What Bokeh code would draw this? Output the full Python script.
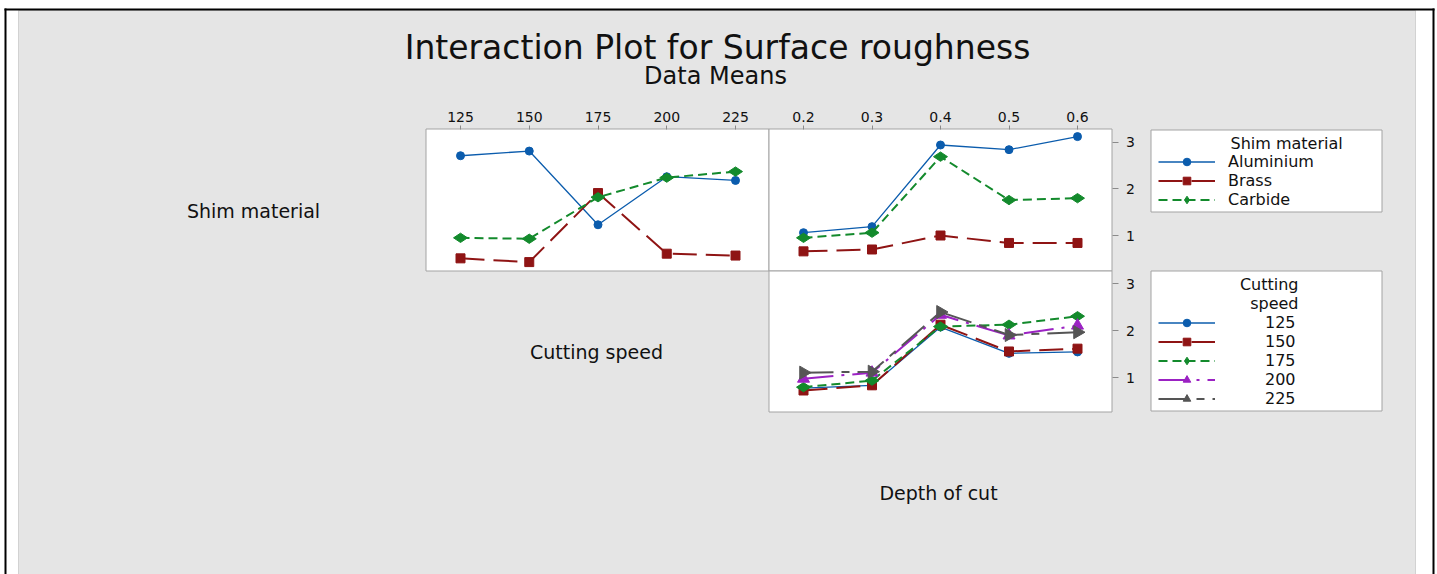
import math

from bokeh.embed import file_html
from bokeh.models import FixedTicker, Label, Legend, LegendItem, LinearAxis, Range1d
from bokeh.plotting import figure
from bokeh.resources import INLINE

# ---- data: surface roughness means ----
cutting_speed = [125, 150, 175, 200, 225]
depth_of_cut = [0.2, 0.3, 0.4, 0.5, 0.6]
roughness_ticks = [1, 2, 3]

shim_materials = ["Aluminium", "Brass", "Carbide"]
speed_labels = ["125", "150", "175", "200", "225"]

# shim material x cutting speed
aluminium_by_speed = [2.71, 2.81, 1.23, 2.26, 2.18]
brass_by_speed = [0.51, 0.43, 1.91, 0.61, 0.57]
carbide_by_speed = [0.95, 0.93, 1.82, 2.24, 2.37]

# shim material x depth of cut
aluminium_by_depth = [1.06, 1.19, 2.94, 2.84, 3.12]
brass_by_depth = [0.66, 0.70, 1.00, 0.84, 0.84]
carbide_by_depth = [0.95, 1.06, 2.69, 1.76, 1.80]

# cutting speed x depth of cut
speed125_by_depth = [0.78, 0.84, 2.08, 1.52, 1.55]
speed150_by_depth = [0.73, 0.84, 2.13, 1.56, 1.62]
speed175_by_depth = [0.80, 0.94, 2.09, 2.13, 2.31]
speed200_by_depth = [0.98, 1.11, 2.34, 1.90, 2.11]
speed225_by_depth = [1.11, 1.13, 2.40, 1.91, 1.97]

# ---- page geometry (pixels) ----
W, H = 1437, 574
FONT = "DejaVu Sans"
TEXT = "#111111"


def x_range_for(v_a, px_a, v_b, px_b):
    k = (px_b - px_a) / (v_b - v_a)
    return Range1d(start=v_a - px_a / k, end=v_a + (W - px_a) / k)


def y_range_for(v_a, py_a, v_b, py_b):
    k = (py_a - py_b) / (v_b - v_a)
    return Range1d(start=v_a + (py_a - H) / k, end=v_a + py_a / k)


p = figure(
    width=W, height=H, output_backend="svg", toolbar_location=None,
    x_range=Range1d(0, W), y_range=Range1d(H, 0),
    x_axis_type=None, y_axis_type=None, min_border=0,
    outline_line_color=None, background_fill_color="white",
    border_fill_color="white",
)
p.extra_x_ranges = {
    "cs": x_range_for(125, 460, 225, 735),
    "doc": x_range_for(0.2, 803, 0.6, 1077),
}
p.extra_y_ranges = {
    "top": y_range_for(1, 235, 3, 141.7),
    "bot": y_range_for(1, 377.3, 3, 283.3),
}

# ---- frame and background ----
p.quad(left=[18], right=[1415], top=[10], bottom=[574],
       fill_color="#e5e5e5", line_color="#d2d2d2", line_width=1)
p.quad(left=[4, 4, 1432], right=[1434, 6, 1434], top=[8, 8, 8], bottom=[10, 574, 574],
       fill_color="black", line_color=None)

# panels and legend boxes
PANEL_LINE = "#a3a3a3"
p.quad(left=[425.5, 768.5, 768.5], right=[768.5, 1111.5, 1111.5],
       top=[128.5, 128.5, 270.5], bottom=[270.5, 270.5, 411.5],
       fill_color="white", line_color=PANEL_LINE, line_width=1)
p.quad(left=[1150.5, 1150.5], right=[1381.5, 1381.5],
       top=[129.5, 270.5], bottom=[211.5, 410.5],
       fill_color="white", line_color=PANEL_LINE, line_width=1)

# ---- series styles ----
BLUE, RED, GREEN, PURPLE, GREY = "#0b5cad", "#8f1414", "#138a2c", "#9b22c3", "#555555"
styles = [
    dict(color=BLUE, line_width=1.3, line_dash="solid", marker="circle", size=8, angle=0.0),
    dict(color=RED, line_width=2, line_dash="24 9", marker="square", size=9, angle=0.0),
    dict(color=GREEN, line_width=2, line_dash="9 5", marker="diamond", size=14, angle=math.pi / 2),
    dict(color=PURPLE, line_width=2, line_dash="30 8 3 8", marker="triangle", size=12, angle=0.0),
    dict(color=GREY, line_width=2, line_dash="30 8 8 8", marker="triangle", size=13, angle=-math.pi / 2),
]


def series(xs, ys, xr, yr, st):
    ln = p.line(xs, ys, x_range_name=xr, y_range_name=yr, line_color=st["color"],
                line_width=st["line_width"], line_dash=st["line_dash"])
    sc = p.scatter(xs, ys, x_range_name=xr, y_range_name=yr, marker=st["marker"],
                   size=st["size"], angle=st["angle"], fill_color=st["color"],
                   line_color=st["color"])
    return [ln, sc]


shim_speed = [aluminium_by_speed, brass_by_speed, carbide_by_speed]
shim_depth = [aluminium_by_depth, brass_by_depth, carbide_by_depth]
speed_depth = [speed125_by_depth, speed150_by_depth, speed175_by_depth,
               speed200_by_depth, speed225_by_depth]

shim_items = []
for name, ys_s, ys_d, st in zip(shim_materials, shim_speed, shim_depth, styles):
    r1 = series(cutting_speed, ys_s, "cs", "top", st)
    series(depth_of_cut, ys_d, "doc", "top", st)
    shim_items.append(LegendItem(label=name, renderers=r1))

speed_items = []
for name, ys, st in zip(speed_labels, speed_depth, styles):
    r = series(depth_of_cut, ys, "doc", "bot", st)
    speed_items.append(LegendItem(label=name, renderers=r))


# ---- axes drawn at the panel edges ----
def top_axis(range_name, ticks):
    ax = LinearAxis(x_range_name=range_name, ticker=FixedTicker(ticks=ticks),
                    fixed_location=128.5, axis_line_color=None,
                    major_tick_in=0, major_tick_out=4, minor_tick_line_color=None,
                    major_tick_line_color="#8a8a8a",
                    major_label_text_font=FONT, major_label_text_font_size="14px",
                    major_label_text_color=TEXT, major_label_standoff=3)
    p.add_layout(ax, "above")


def right_axis(range_name):
    ax = LinearAxis(y_range_name=range_name, ticker=FixedTicker(ticks=roughness_ticks),
                    fixed_location=1111.5, axis_line_color=None,
                    major_tick_in=0, major_tick_out=6, minor_tick_line_color=None,
                    major_tick_line_color="#8a8a8a",
                    major_label_text_font=FONT, major_label_text_font_size="14px",
                    major_label_text_color=TEXT, major_label_standoff=8)
    p.add_layout(ax, "right")


top_axis("cs", cutting_speed)
top_axis("doc", depth_of_cut)
right_axis("top")
right_axis("bot")


# ---- legends ----
def make_legend(items, loc, standoff):
    lg = Legend(items=items, location=loc, glyph_width=57, glyph_height=19,
                spacing=0, padding=5, margin=0, label_standoff=standoff,
                label_height=19, label_text_font=FONT, label_text_font_size="16px",
                label_text_color=TEXT, border_line_color=None,
                background_fill_alpha=0)
    p.add_layout(lg)


make_legend(shim_items, (1158, H - 208.5), 13)
make_legend(speed_items, (1158, H - 408), 50)


# ---- texts ----
def label(x, y, text, size, align="center"):
    p.add_layout(Label(x=x, y=y, text=text, text_align=align, text_baseline="middle",
                       text_font=FONT, text_font_size=size, text_color=TEXT))


label(717, 47, "Interaction Plot for Surface roughness", "33px")
label(715, 75, "Data Means", "24px")
label(253, 210, "Shim material", "19px")
label(596, 351, "Cutting speed", "19px")
label(938, 492, "Depth of cut", "19px")
label(1230, 143, "Shim material", "16px", "left")
label(1298, 284, "Cutting", "16px", "right")
label(1298, 303, "speed", "16px", "right")

open("out.html", "w").write(file_html(p, INLINE))
